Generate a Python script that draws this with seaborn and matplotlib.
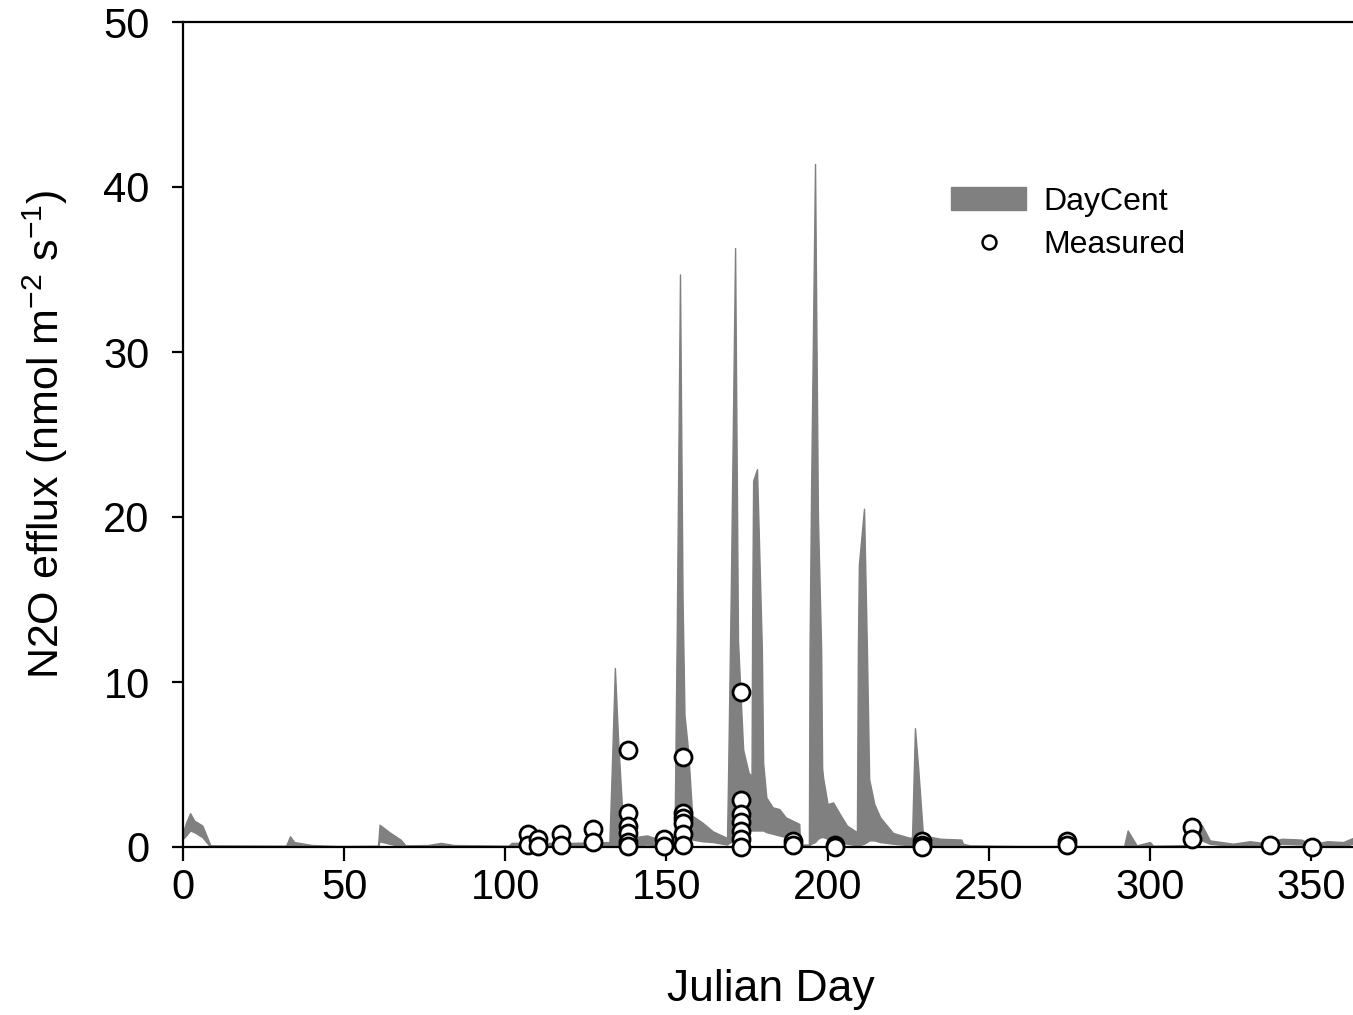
import matplotlib
matplotlib.use('Agg')
import pandas as pd
import matplotlib.pyplot as plt
import seaborn as sns
from matplotlib.patches import Patch
from matplotlib.lines import Line2D

# ----- DayCent simulated range (lower / upper envelope) -----
band_day = [0, 1, 2.2, 3.5, 6, 8.5, 32, 33.2, 34.5, 40, 48, 60.5, 61, 64, 67.5, 69,
            76, 80, 84, 101, 102, 120, 132.3, 133, 134, 135, 136.2, 138, 140, 144,
            147, 150, 152.5, 152.8, 153.2, 154.2, 155, 155.6, 156.7, 158, 161, 164.4,
            168.8, 169.1, 170, 171.3, 172.2, 173.8, 175.5, 176.4, 176.6, 176.9, 178.1,
            179.6, 180, 181, 183, 185, 187, 191.2, 191.5, 194.2, 194.4, 194.9, 196.1,
            197, 198.0, 198.3, 198.6, 200, 201.7, 203.8, 206, 209.1, 209.4, 209.7,
            211.3, 212.2, 212.9, 214.5, 216.3, 220.3, 225.6, 226.2, 227.1, 228.1,
            229.6, 235, 241.5, 242, 244, 260, 292, 293.1, 295.9, 300, 301, 314.5,
            316.1, 318.6, 325.8, 331, 335, 341, 347, 350, 355, 360, 363, 365]
band_lo = [0.5, 0.7, 1.0, 0.9, 0.6, 0.0, 0.0, 0.1, 0.05, 0.0, 0.0, 0.0, 0.35, 0.2, 0.05, 0.0,
           0.02, 0.05, 0.02, 0.0, 0.05, 0.05, 0.05, 0.1, 0.1, 0.1, 0.1, 0.1, 0.1, 0.15,
           0.1, 0.1, 0.1, 0.2, 0.3, 0.5, 0.7, 0.7, 0.6, 0.45, 0.35, 0.3,
           0.15, 0.2, 0.3, 0.5, 0.8, 1.0, 1.0, 1.0, 1.0, 1.0, 1.0,
           1.0, 1.0, 0.9, 0.8, 0.7, 0.6, 0.5, 0.05, 0.05, 0.1, 0.2, 0.3,
           0.5, 0.6, 0.6, 0.6, 0.5, 0.4, 0.3, 0.2, 0.1, 0.1, 0.1,
           0.2, 0.3, 0.4, 0.4, 0.3, 0.2, 0.1, 0.1, 0.1, 0.1,
           0.1, 0.1, 0.1, 0.05, 0.02, 0.0, 0.0, 0.05, 0.0, 0.05, 0.0, 0.05,
           0.4, 0.2, 0.05, 0.1, 0.05, 0.2, 0.15, 0.05, 0.1, 0.05, 0.2, 0.2]
band_hi = [0.9, 1.5, 2.05, 1.6, 1.3, 0.1, 0.08, 0.65, 0.3, 0.12, 0.06, 0.08, 1.35, 0.9, 0.45, 0.1,
           0.12, 0.25, 0.12, 0.08, 0.25, 0.25, 0.3, 4.5, 10.85, 6.5, 2.4, 1.0, 0.6, 0.7,
           0.5, 0.6, 0.3, 6, 13, 34.7, 15, 8, 5.9, 1.9, 1.5, 0.95,
           0.55, 4, 16, 36.3, 12.5, 5.9, 4.5, 4.3, 14, 22.2, 22.9,
           12, 5.1, 3.0, 2.4, 2.3, 1.8, 1.4, 0.15, 0.15, 12, 22, 41.4,
           20, 12, 4.8, 4.2, 2.6, 2.7, 2.0, 1.3, 0.9, 12, 17.1,
           20.5, 12, 4.1, 2.6, 1.8, 0.85, 0.55, 0.6, 7.2, 4.8,
           0.7, 0.5, 0.45, 0.2, 0.1, 0.06, 0.06, 1.0, 0.1, 0.3, 0.08, 0.12,
           1.33, 0.4, 0.2, 0.35, 0.25, 0.5, 0.45, 0.15, 0.35, 0.3, 0.55, 0.6]

# ----- Measured fluxes -----
meas_day = [107.1, 107.1, 110.2, 110.2, 117.2, 117.2, 127.3, 127.3,
            138.2, 138.2, 138.2, 138.2, 138.2, 138.2,
            149.3, 149.3,
            155.0, 155.0, 155.0, 155.0, 155.0, 155.0,
            173.0, 173.0, 173.0, 173.0, 173.0, 173.0, 173.0,
            189.2, 189.2, 202.3, 202.3, 229.2, 229.2, 229.2,
            274.2, 274.2, 313.2, 313.2, 337.3, 350.2]
meas_val = [0.8, 0.1, 0.5, 0.05, 0.8, 0.1, 1.1, 0.3,
            5.9, 2.05, 1.3, 0.85, 0.3, 0.05,
            0.5, 0.05,
            5.45, 2.05, 1.75, 1.45, 0.8, 0.1,
            9.4, 2.85, 2.0, 1.5, 1.0, 0.5, 0.02,
            0.35, 0.1, 0.1, 0.02, 0.35, 0.15, 0.02,
            0.35, 0.1, 1.2, 0.5, 0.1, 0.02]

band = pd.DataFrame({'day': band_day, 'lo': band_lo, 'hi': band_hi})
meas = pd.DataFrame({'day': meas_day, 'flux': meas_val})

sns.set_style('ticks')
plt.rcParams['font.family'] = ['Liberation Sans', 'DejaVu Sans']
plt.rcParams['mathtext.fontset'] = 'custom'
plt.rcParams['mathtext.rm'] = 'Liberation Sans'
plt.rcParams['mathtext.it'] = 'Liberation Sans'
for k in ['text.color', 'axes.labelcolor', 'xtick.color', 'ytick.color']:
  plt.rcParams[k] = 'black'

gray = '#808080'

fig = plt.figure(figsize=(13.53, 10.15), dpi=100)
# axes runs a little past the right edge of the canvas, as in the original
ax = fig.add_axes([183 / 1353, 168 / 1015, 365 * 3.223 / 1353, 825 / 1015])

ax.fill_between(band['day'], band['lo'], band['hi'], color=gray, lw=1.0, zorder=2)
sns.scatterplot(data=meas, x='day', y='flux', ax=ax, marker='o', s=150,
                facecolor='white', edgecolor='black', linewidth=2.0, zorder=3,
                clip_on=False)

ax.set_xlim(0, 365)
ax.set_ylim(0, 50)
ax.set_xticks(range(0, 351, 50))
ax.set_yticks(range(0, 51, 10))

for s in ['left', 'bottom', 'top', 'right']:
  ax.spines[s].set_linewidth(1.6)
  ax.spines[s].set_color('black')

ax.tick_params(axis='both', direction='out', width=1.6, labelsize=30, colors='black')
ax.tick_params(axis='x', length=10, pad=5)
ax.tick_params(axis='y', length=8, pad=16)
ax.tick_params(top=False, right=False)

ax.set_xlabel('Julian Day', fontsize=32, labelpad=44)
ax.set_ylabel(r'N2O efflux (nmol m$^{-2}$ s$^{-1}$)', fontsize=31, labelpad=24)

handles = [Patch(facecolor=gray, edgecolor=gray),
           Line2D([], [], marker='o', ls='', mfc='white', mec='black', ms=10, mew=1.8)]
fig.legend(handles, ['DayCent', 'Measured'], loc='upper left',
           bbox_to_anchor=(951 / 1353, 1 - 187 / 1015), frameon=False,
           fontsize=23, handlelength=2.35, handleheight=0.72,
           handletextpad=0.55, labelspacing=0.4, borderpad=0, borderaxespad=0)

fig.savefig('out.png', dpi=100)
